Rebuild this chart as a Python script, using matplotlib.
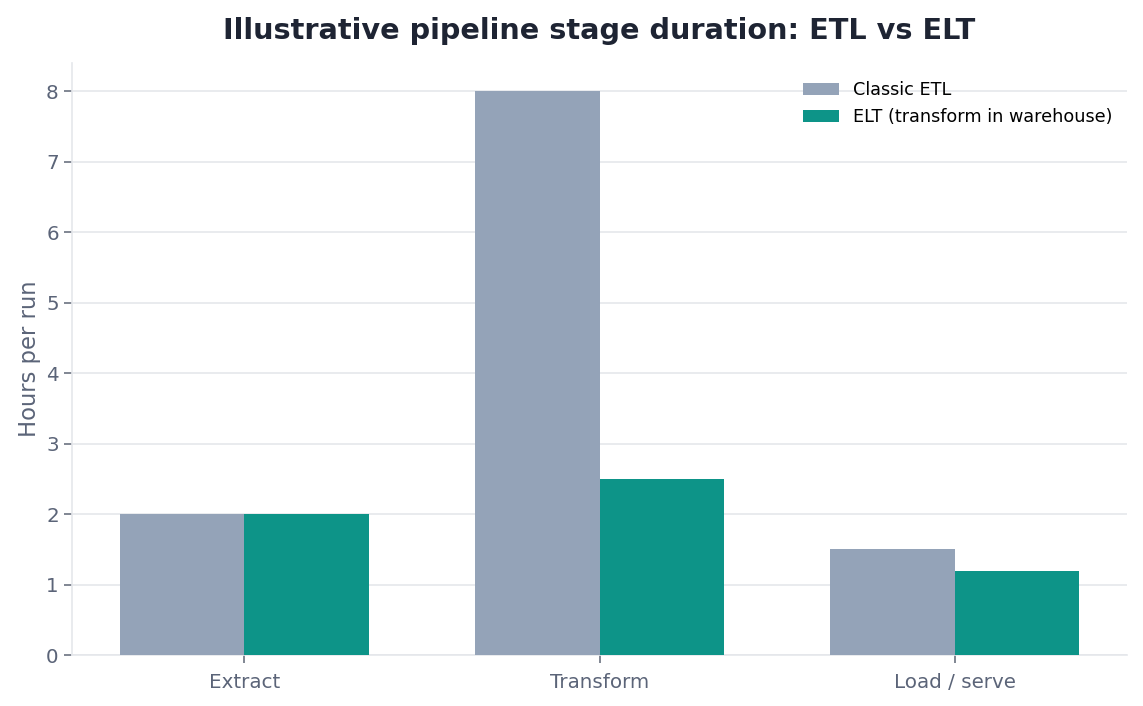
import numpy as np
import matplotlib.pyplot as plt

plt.rcParams["font.family"] = ["DejaVu Sans"]

# datos ----------------------------------------------------------------

stages = ["Extract", "Transform", "Load / serve"]
etl_hours = [2.0, 8.0, 1.5]
elt_hours = [2.0, 2.5, 1.2]
series_labels = ["Classic ETL", "ELT (transform in warehouse)"]

# estilo ---------------------------------------------------------------

GRAY = "#94a3b8"
TEAL = "#0d9488"
GRID = "#e5e7eb"
TEXT = "#5b6478"

fig, ax = plt.subplots(figsize=(11.43, 7.06), dpi=100)
fig.subplots_adjust(left=0.063, right=0.986, top=0.911, bottom=0.072)

x = np.arange(len(stages))
w = 0.35
ax.bar(x - w / 2, etl_hours, width=w, color=GRAY, label=series_labels[0], zorder=3)
ax.bar(x + w / 2, elt_hours, width=w, color=TEAL, label=series_labels[1], zorder=3)

ax.set_xticks(x)
ax.set_xticklabels(stages)
ax.set_ylim(0, 8.4)
ax.set_yticks(range(0, 9))

ax.grid(axis="y", color=GRID, linewidth=1.2, zorder=0)
ax.set_axisbelow(True)
for side in ["top", "right"]:
    ax.spines[side].set_visible(False)
for side in ["left", "bottom"]:
    ax.spines[side].set_color(GRID)
    ax.spines[side].set_linewidth(1.2)

ax.tick_params(axis="both", colors="#6b7280", labelcolor=TEXT, labelsize=14.3,
               length=6, width=1.2)
ax.tick_params(axis="x", pad=7)
ax.set_ylabel("Hours per run", fontsize=16.3, color=TEXT, labelpad=4)
ax.set_title("Illustrative pipeline stage duration: ETL vs ELT",
             fontsize=20.7, fontweight="bold", color="#1e2433", pad=17)

ax.legend(loc="upper right", bbox_to_anchor=(1.0, 0.994), frameon=False,
          fontsize=12.7, borderaxespad=0.45)

plt.savefig("out.png", dpi=100)
plt.close()
